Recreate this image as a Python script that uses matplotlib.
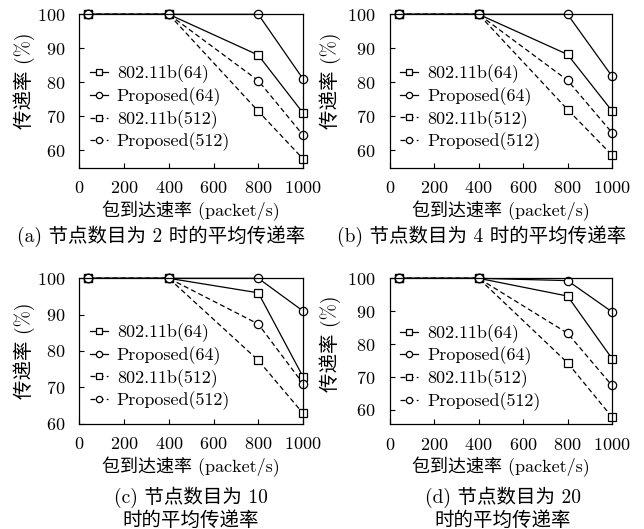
import matplotlib
matplotlib.use('Agg')
import matplotlib.pyplot as plt

plt.rcParams['font.family'] = ['cmr10', 'Noto Sans CJK SC']
plt.rcParams['axes.formatter.use_mathtext'] = True
plt.rcParams['font.size'] = 13

# 包到达速率 (packet/s)
rates = [40, 400, 800, 1000]

# 各子图数据: 802.11b(64), Proposed(64), 802.11b(512), Proposed(512)
a_80211b_64 = [100, 100, 88, 71]
a_prop_64 = [100, 100, 100, 81]
a_80211b_512 = [100, 100, 71.5, 57.5]
a_prop_512 = [100, 100, 80.5, 64.5]

b_80211b_64 = [100, 100, 88.2, 71.6]
b_prop_64 = [100, 100, 100, 81.8]
b_80211b_512 = [100, 100, 72, 58.6]
b_prop_512 = [100, 100, 80.6, 65.2]

c_80211b_64 = [100, 100, 96, 72.9]
c_prop_64 = [100, 100, 100, 91]
c_80211b_512 = [100, 100, 77.4, 62.8]
c_prop_512 = [100, 100, 87.4, 71]

d_80211b_64 = [100, 100, 94.6, 75.6]
d_prop_64 = [100, 100, 99.3, 89.8]
d_80211b_512 = [100, 100, 74.3, 57.8]
d_prop_512 = [100, 100, 83.3, 67.4]

labels = ['802.11b(64)', 'Proposed(64)', '802.11b(512)', 'Proposed(512)']
captions = ['(a) 节点数目为 2 时的平均传递率', '(b) 节点数目为 4 时的平均传递率',
            '(c) 节点数目为 10\n时的平均传递率', '(d) 节点数目为 20\n时的平均传递率']
ylims = [(54.8, 100), (54.9, 100), (60, 100), (55.6, 100)]

panels = [
    (a_80211b_64, a_prop_64, a_80211b_512, a_prop_512),
    (b_80211b_64, b_prop_64, b_80211b_512, b_prop_512),
    (c_80211b_64, c_prop_64, c_80211b_512, c_prop_512),
    (d_80211b_64, d_prop_64, d_80211b_512, d_prop_512),
]

W, H = 644, 529
# 轴的像素位置 (left, top, right, bottom)
boxes = [(79.3, 14.3, 303, 168), (389.7, 14.3, 612, 167.7),
         (79.3, 278.3, 303, 423.5), (389.7, 278.3, 612, 424.3)]
cap_pos = [(161, 236), (482, 236), (191, 508), (503, 508)]
ylab_pos = [(-0.2, 0.57), (-0.22, 0.57), (-0.2, 0.5), (-0.22, 0.55)]

styles = [('-', 's'), ('-', 'o'), ('--', 's'), ('--', 'o')]

fig = plt.figure(figsize=(W / 100, H / 100), dpi=100)

for i, series in enumerate(panels):
    l, t, r, b = boxes[i]
    ax = fig.add_axes([l / W, 1 - b / H, (r - l) / W, (b - t) / H])
    for vals, lab, (ls, mk) in zip(series, labels, styles):
        ax.plot(rates, vals, linestyle=ls, marker=mk, color='black', lw=0.9,
                markersize=5.5 if mk == 's' else 6, markerfacecolor='white',
                markeredgewidth=0.9, label=lab, clip_on=False,
                dashes=(4, 2.5) if ls == '--' else (None, None))
    ax.set_xlim(0, 1000)
    ax.set_ylim(*ylims[i])
    ax.set_xticks([0, 200, 400, 600, 800, 1000])
    ax.set_yticks([60, 70, 80, 90, 100])
    ax.tick_params(direction='in', length=3.5, width=0.8, top=False, right=False,
                   labelsize=13)
    ax.tick_params(axis='x', pad=9)
    ax.tick_params(axis='y', pad=10)
    for s in ax.spines.values():
        s.set_linewidth(0.9)
    ax.set_xlabel('包到达速率 (packet/s)', labelpad=3, fontsize=13)
    ax.set_ylabel('传递率 (%)', fontsize=14)
    ax.yaxis.set_label_coords(*ylab_pos[i])
    ax.legend(loc='center left', bbox_to_anchor=(-0.01, 0.39), frameon=False,
              handlelength=1.0, handletextpad=0.5, labelspacing=0.22, borderpad=0.2,
              markerscale=0.75, fontsize=13)
    cx, cy = cap_pos[i]
    fig.text(cx / W, 1 - cy / H, captions[i], ha='center', va='center',
             linespacing=1.2, fontsize=14)

fig.savefig('out.png', dpi=100)
